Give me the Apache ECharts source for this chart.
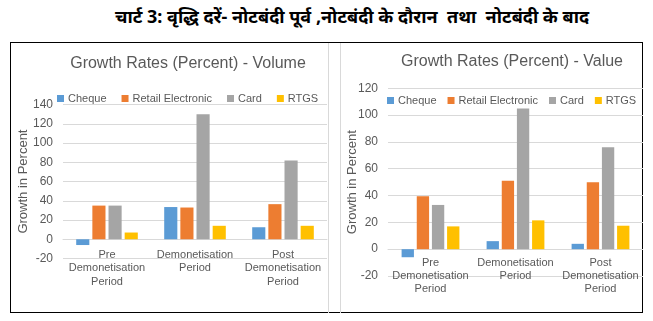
<!DOCTYPE html>
<html>
<head>
<meta charset="utf-8">
<script src="https://cdn.jsdelivr.net/npm/echarts@6/dist/echarts.min.js"></script>
<style>
  html, body { margin: 0; padding: 0; background: #fff; }
  body { width: 653px; height: 321px; position: relative; overflow: hidden; }
  #heading {
    position: absolute; left: 0; top: 4px; width: 704px; text-align: center;
    font: bold 18px "Noto Sans", "DejaVu Sans", sans-serif; color: #000; white-space: pre;
  }
  #frame {
    position: absolute; left: 10px; top: 42px; width: 631px; height: 269px;
    border: 1.5px solid #000;
  }
  #vol { position: absolute; left: 11px; top: 43px; width: 317px; height: 270px; border-right: 1px solid #d9d9d9; }
  #val { position: absolute; left: 340px; top: 43px; width: 302px; height: 270px; border-left: 1px solid #d9d9d9; }
</style>
</head>
<body>
<div id="heading">चार्ट 3: वृद्धि दरें- नोटबंदी पूर्व ,नोटबंदी के दौरान  तथा  नोटबंदी के बाद</div>
<div id="frame"></div>
<div id="vol"></div>
<div id="val"></div>
<script>
// Periods shown on the category axis
const periods = ['Pre\nDemonetisation\nPeriod', 'Demonetisation\nPeriod', 'Post\nDemonetisation\nPeriod'];
const seriesNames = ['Cheque', 'Retail Electronic', 'Card', 'RTGS'];
const seriesColors = ['#5B9BD5', '#ED7D31', '#A5A5A5', '#FFC000'];

// Growth rates by volume (percent)
const volCheque = [-6, 33.5, 12.5];
const volRetail = [35, 33, 36.5];
const volCard = [35, 130, 82];
const volRtgs = [7, 14, 14];

// Growth rates by value (percent)
const valCheque = [-6, 6, 4];
const valRetail = [39.5, 51, 50];
const valCard = [33, 105, 76];
const valRtgs = [17, 21.5, 17.5];

// Y-axis ticks
const volTicks = { min: -20, max: 140, interval: 20 };
const valTicks = { min: -20, max: 120, interval: 20 };

const FONT = 'Liberation Sans, Arial, sans-serif';
const GREY = '#595959';

function buildOption(cfg) {
  return {
    animation: false,
    textStyle: { fontFamily: FONT },
    title: {
      text: cfg.title, left: cfg.titleX, top: cfg.titleY, textAlign: 'center', padding: 0,
      textStyle: { fontFamily: FONT, fontSize: 16, fontWeight: 'normal', color: GREY }
    },
    legend: {
      data: seriesNames, left: cfg.legendX, top: cfg.legendY, width: 300, padding: 0,
      itemWidth: 7, itemHeight: 7, itemGap: cfg.legendGap, icon: 'rect',
      textStyle: { fontFamily: FONT, fontSize: 11, color: GREY, padding: [0, 0, 0, -1] }
    },
    grid: {
      left: cfg.grid.left, right: cfg.grid.right, top: cfg.grid.top, bottom: cfg.grid.bottom,
      containLabel: false, outerBoundsMode: 'none'
    },
    xAxis: {
      type: 'category', data: periods,
      axisTick: { show: false },
      axisLine: { onZero: true, lineStyle: { color: '#d9d9d9' } },
      axisLabel: { color: GREY, fontSize: 11, lineHeight: 13.3, margin: cfg.catMargin, interval: 0 }
    },
    yAxis: {
      type: 'value', min: cfg.ticks.min, max: cfg.ticks.max, interval: cfg.ticks.interval,
      name: 'Growth in Percent', nameLocation: 'middle', nameGap: cfg.nameGap, nameMoveOverlap: false,
      nameTextStyle: { color: GREY, fontSize: 13, fontFamily: FONT },
      axisLine: { show: false }, axisTick: { show: false },
      axisLabel: { color: GREY, fontSize: 12, margin: 10 },
      splitLine: { lineStyle: { color: '#d9d9d9' } }
    },
    series: cfg.data.map((d, i) => ({
      name: seriesNames[i], type: 'bar', data: d,
      itemStyle: { color: seriesColors[i] },
      barGap: '23%', barCategoryGap: cfg.catGap
    }))
  };
}

const volChart = echarts.init(document.getElementById('vol'), null, { renderer: 'canvas' });
volChart.setOption(buildOption({
  title: 'Growth Rates (Percent) - Volume', titleX: 177, titleY: 13,
  legendX: 46, legendY: 50, legendGap: 15,
  grid: { left: 52, right: 1, top: 61.6, bottom: 54.5 },
  ticks: volTicks, nameGap: 33, catGap: '30%', catMargin: -10,
  data: [volCheque, volRetail, volCard, volRtgs]
}));

const valChart = echarts.init(document.getElementById('val'), null, { renderer: 'canvas' });
valChart.setOption(buildOption({
  title: 'Growth Rates (Percent) - Value', titleX: 171, titleY: 11,
  legendX: 46, legendY: 52, legendGap: 11,
  grid: { left: 47, right: 0, top: 45.3, bottom: 37 },
  ticks: valTicks, nameGap: 29, catGap: '32%', catMargin: -20,
  data: [valCheque, valRetail, valCard, valRtgs]
}));
</script>
</body>
</html>
